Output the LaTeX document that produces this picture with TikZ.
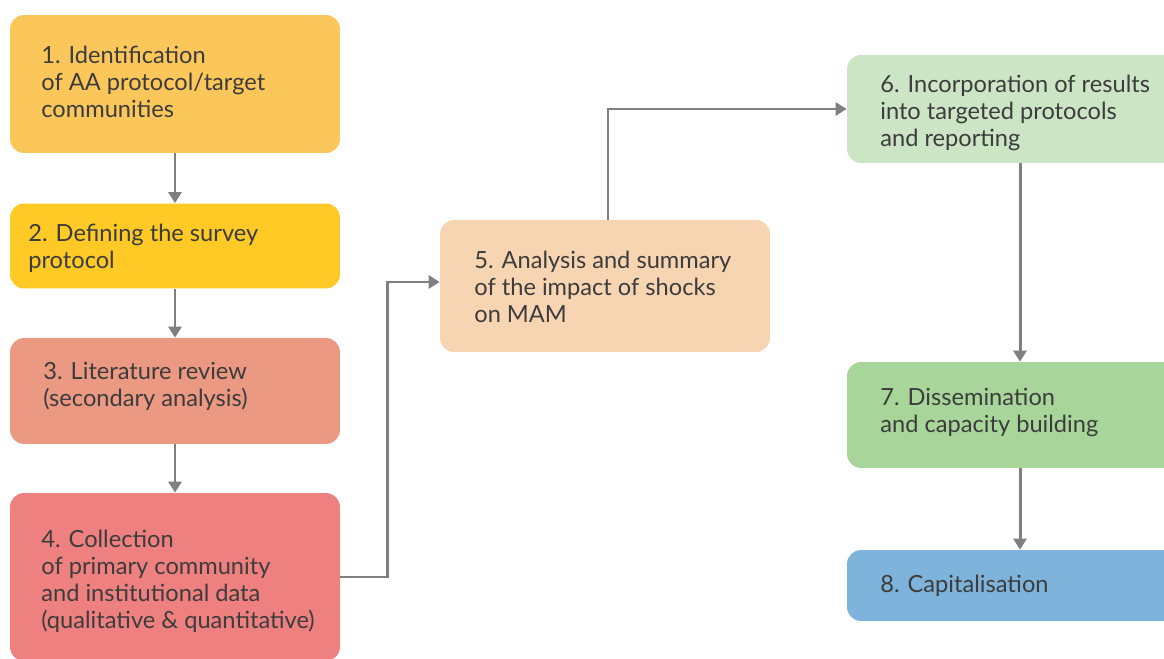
\documentclass[tikz,border=0pt]{standalone}
\usepackage{fontspec}
\setmainfont{Lato}
\usepackage{xcolor}
\usetikzlibrary{arrows.meta,positioning}
\definecolor{stepOne}{HTML}{FBC65A}
\definecolor{stepTwo}{HTML}{FFC926}
\definecolor{stepThree}{HTML}{EB9982}
\definecolor{stepFour}{HTML}{EF8080}
\definecolor{stepFive}{HTML}{F8D5B2}
\definecolor{stepSix}{HTML}{CCE6C5}
\definecolor{stepSeven}{HTML}{A8D69A}
\definecolor{stepEight}{HTML}{7EB3DB}
\definecolor{textGray}{HTML}{3C3C3C}
\definecolor{lineGray}{HTML}{808080}
\newcommand{\leftWidth}{6.6cm}
\newcommand{\rightWidth}{6.92cm}
\newcommand{\stepLines}[1]{\begin{tabular}[t]{@{}l@{}}#1\end{tabular}}

\begin{document}
\begin{tikzpicture}[x=0.02cm,y=-0.02cm,
	stepbox/.style={rounded corners=0.28cm, inner sep=0pt, draw=none, minimum width=\leftWidth},
	steptext/.style={anchor=base west, inner sep=0pt, text=textGray, font=\fontsize{13.45}{15.4}\selectfont},
	flow/.style={draw=lineGray, line width=1.7pt, -{Triangle[length=0.22cm,width=0.26cm]}}]

	\useasboundingbox (0,0) rectangle (1164,659);
	\clip (0,0) rectangle (1164,659);

	% left column
	\node[stepbox, fill=stepOne, minimum height=2.76cm] (b1) at (175,84) {};
	\node[stepbox, fill=stepTwo, minimum height=1.7cm] (b2) at (175,246) {};
	\node[stepbox, fill=stepThree, minimum height=2.12cm] (b3) at (175,391) {};
	\node[stepbox, fill=stepFour, minimum height=3.36cm] (b4) at (175,577) {};

	% middle
	\node[stepbox, fill=stepFive, minimum height=2.64cm] (b5) at (605,286) {};

	% right column
	\node[stepbox, fill=stepSix, minimum width=\rightWidth, minimum height=2.16cm] (b6) at (1020,109) {};
	\node[stepbox, fill=stepSeven, minimum width=\rightWidth, minimum height=2.12cm] (b7) at (1020,415) {};
	\node[stepbox, fill=stepEight, minimum width=\rightWidth, minimum height=1.42cm] (b8) at (1020,585.5) {};

	\node[steptext] (t1) at (41,63) {\stepLines{1. Identification\\of AA protocol/target\\communities}};
	\node[steptext] (t2) at (28,241) {\stepLines{2. Defining the survey\\protocol}};
	\node[steptext] (t3) at (43,379) {\stepLines{3. Literature review\\(secondary analysis)}};
	\node[steptext] (t4) at (41,547) {\stepLines{4. Collection\\of primary community\\and institutional data\\(qualitative \& quantitative)}};
	\node[steptext] (t5) at (474,268) {\stepLines{5. Analysis and summary\\of the impact of shocks\\on MAM}};
	\node[steptext] (t6) at (880,92) {\stepLines{6. Incorporation of results\\into targeted protocols\\and reporting}};
	\node[steptext] (t7) at (880,405) {\stepLines{7. Dissemination\\and capacity building}};
	\node[steptext] (t8) at (880,592) {\stepLines{8. Capitalisation}};

	% arrows
	\foreach \from/\to in {b1/b2, b2/b3, b3/b4, b6/b7, b7/b8}
		\draw[flow] (\from.south) -- (\to.north);
	\draw[flow] (b4.east) -- ++(47,0) |- ([yshift=0.08cm]b5.west);
	\draw[flow] ([xshift=0.06cm]b5.north) |- (b6.west);
\end{tikzpicture}
\end{document}
